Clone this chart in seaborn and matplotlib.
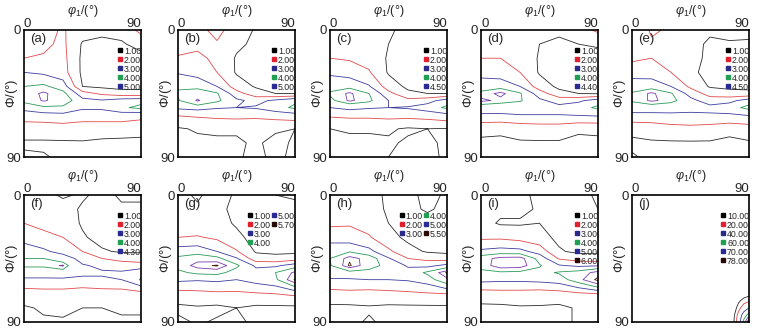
import numpy as np
import matplotlib
matplotlib.use("Agg")
import matplotlib.pyplot as plt
import seaborn as sns
from matplotlib.lines import Line2D

# ---------------- data ----------------
PHI1 = [0, 15, 30, 45, 60, 75, 90]                       # phi1 grid (deg)
PHI = [0, 10, 20, 30, 40, 45, 50, 55, 60, 70, 80, 90]    # Phi grid (deg)

ODF_A = [
    [1.6, 1.7, 2.1, 1.4, 1.2, 1.3, 2.3],
    [1.7, 1.8, 2.2, 0.9, 0.8, 0.9, 1.3],
    [2.0, 2.1, 2.3, 0.8, 0.6, 0.6, 0.7],
    [3.0, 2.8, 2.4, 0.8, 0.6, 0.6, 0.6],
    [4.0, 4.2, 3.5, 1.0, 0.8, 0.7, 0.7],
    [4.4, 5.2, 4.3, 2.4, 1.8, 1.4, 1.4],
    [4.3, 5.1, 4.6, 3.3, 3.1, 3.5, 3.6],
    [3.3, 3.8, 3.8, 3.2, 3.2, 3.8, 4.3],
    [2.6, 2.7, 2.8, 2.4, 2.5, 2.6, 2.4],
    [1.4, 1.4, 1.5, 1.6, 1.5, 1.4, 1.3],
    [0.9, 0.9, 0.9, 0.9, 0.8, 0.8, 0.8],
    [1.1, 1.05, 0.9, 0.8, 0.8, 0.8, 0.8],
]
ODF_B = [
    [1.5, 1.7, 2.3, 1.5, 0.9, 0.9, 0.9],
    [1.6, 1.8, 1.9, 1.2, 0.8, 0.8, 0.8],
    [2.1, 2.2, 1.8, 0.9, 0.7, 0.7, 0.7],
    [2.9, 2.6, 2.0, 0.9, 0.8, 0.6, 0.6],
    [3.9, 3.7, 3.0, 1.5, 0.9, 0.7, 0.7],
    [4.1, 4.6, 4.1, 2.4, 1.4, 1.0, 1.0],
    [3.9, 5.1, 4.2, 3.2, 2.7, 3.2, 3.8],
    [3.2, 3.4, 3.1, 3.0, 3.1, 3.6, 4.2],
    [2.1, 2.2, 2.3, 2.4, 2.3, 2.5, 2.7],
    [0.9, 1.1, 1.2, 1.1, 1.2, 1.1, 1.0],
    [0.7, 0.8, 0.8, 0.9, 1.1, 0.8, 1.1],
    [0.7, 0.8, 0.8, 0.9, 1.2, 0.8, 1.2],
]
ODF_C = [
    [1.4, 1.5, 1.6, 1.1, 0.8, 0.8, 0.8],
    [1.5, 1.6, 1.5, 1.0, 0.7, 0.7, 0.7],
    [2.0, 1.9, 1.6, 0.9, 0.6, 0.6, 0.6],
    [2.8, 2.5, 2.1, 0.9, 0.6, 0.5, 0.5],
    [3.7, 3.8, 3.1, 1.5, 0.8, 0.7, 0.7],
    [4.1, 4.6, 4.0, 2.3, 1.2, 1.0, 1.0],
    [3.8, 4.6, 4.2, 3.0, 2.3, 2.6, 3.5],
    [3.0, 3.3, 3.1, 3.0, 3.1, 3.5, 4.2],
    [2.2, 2.3, 2.3, 2.4, 2.4, 2.5, 2.8],
    [1.0, 1.1, 1.1, 1.1, 0.9, 1.0, 0.95],
    [0.7, 0.8, 0.8, 0.9, 1.1, 1.2, 0.8],
    [0.7, 0.7, 0.8, 1.0, 1.2, 1.3, 0.8],
]
ODF_D = [
    [1.6, 1.8, 1.5, 1.2, 1.1, 1.6, 2.2],
    [1.7, 1.9, 1.5, 1.0, 0.9, 1.0, 1.1],
    [2.0, 2.0, 1.7, 0.9, 0.7, 0.7, 0.7],
    [2.6, 2.3, 2.0, 0.9, 0.6, 0.5, 0.5],
    [3.6, 3.8, 3.0, 1.5, 0.8, 0.7, 0.7],
    [4.2, 4.5, 4.1, 2.5, 1.3, 1.0, 0.9],
    [4.5, 4.3, 4.1, 3.2, 2.6, 2.8, 3.5],
    [3.6, 3.5, 3.3, 3.2, 3.3, 3.6, 4.2],
    [2.9, 2.9, 3.0, 3.0, 3.0, 3.1, 3.2],
    [1.3, 1.2, 1.4, 1.5, 1.5, 1.2, 1.2],
    [0.8, 0.8, 0.9, 0.9, 0.9, 0.7, 0.8],
    [0.7, 0.8, 0.9, 0.9, 0.9, 0.8, 0.8],
]
ODF_E = [
    [1.4, 2.1, 1.9, 1.5, 1.1, 1.3, 1.2],
    [1.5, 1.9, 1.8, 1.2, 0.9, 0.9, 0.9],
    [1.8, 2.0, 1.8, 1.3, 0.8, 0.7, 0.7],
    [2.6, 2.4, 2.0, 1.2, 0.7, 0.6, 0.6],
    [3.5, 3.7, 3.0, 1.8, 0.9, 0.8, 0.8],
    [4.1, 4.6, 4.1, 2.6, 1.6, 1.3, 1.2],
    [4.1, 4.6, 4.3, 3.3, 2.5, 2.7, 3.5],
    [3.5, 3.5, 3.3, 3.2, 3.3, 3.6, 4.3],
    [2.8, 2.8, 2.9, 2.9, 2.9, 2.9, 3.1],
    [1.3, 1.4, 1.6, 1.7, 1.6, 1.4, 1.5],
    [0.8, 0.9, 0.9, 0.9, 0.9, 0.7, 0.9],
    [1.1, 0.8, 0.8, 0.8, 0.8, 0.8, 0.8],
]
ODF_F = [
    [1.3, 1.2, 0.9, 1.1, 0.8, 1.1, 1.1],
    [1.5, 1.4, 1.3, 0.9, 0.8, 0.9, 0.9],
    [2.0, 1.8, 1.5, 0.9, 0.7, 0.6, 0.6],
    [2.5, 2.2, 2.0, 1.1, 0.7, 0.6, 0.6],
    [3.7, 3.2, 2.6, 2.0, 1.1, 0.9, 0.9],
    [4.0, 4.0, 3.6, 2.6, 2.0, 1.6, 1.4],
    [4.1, 4.1, 4.35, 3.1, 2.8, 2.6, 2.5],
    [3.6, 3.6, 3.7, 3.2, 3.1, 3.1, 3.6],
    [2.8, 2.8, 2.8, 2.8, 2.9, 3.0, 4.1],
    [1.5, 1.6, 1.6, 1.4, 1.5, 1.5, 1.6],
    [0.9, 1.1, 1.2, 1.0, 1.0, 1.2, 1.1],
    [0.8, 0.9, 0.9, 0.8, 0.8, 0.8, 0.9],
]
ODF_G = [
    [1.2, 0.9, 1.3, 0.9, 0.8, 1.0, 1.1],
    [1.3, 1.1, 1.2, 0.8, 0.8, 0.9, 0.8],
    [1.4, 1.2, 1.3, 0.9, 0.7, 0.7, 0.7],
    [2.0, 2.1, 1.8, 1.2, 0.7, 0.6, 0.6],
    [3.5, 3.6, 3.0, 2.1, 0.9, 0.8, 0.8],
    [4.2, 4.6, 4.3, 3.1, 1.4, 1.3, 1.5],
    [4.3, 5.4, 5.8, 4.2, 2.8, 2.8, 3.5],
    [3.8, 4.2, 4.3, 3.6, 3.4, 4.0, 5.2],
    [3.2, 3.1, 3.2, 3.0, 3.4, 3.8, 5.8],
    [1.6, 1.7, 1.8, 1.8, 1.9, 2.0, 2.2],
    [0.8, 0.9, 0.8, 1.0, 0.8, 0.8, 0.8],
    [1.2, 0.9, 1.1, 1.2, 0.8, 0.8, 0.8],
]
ODF_H = [
    [1.3, 1.4, 1.2, 0.9, 0.8, 1.2, 0.9],
    [1.5, 1.6, 1.3, 0.9, 0.8, 1.1, 0.8],
    [1.8, 1.9, 1.6, 1.0, 0.7, 0.7, 0.7],
    [2.6, 2.4, 2.1, 1.3, 0.8, 0.6, 0.6],
    [3.6, 3.9, 3.3, 2.2, 1.3, 0.9, 0.8],
    [4.0, 5.4, 4.6, 3.1, 2.0, 1.7, 1.5],
    [3.9, 5.6, 4.5, 3.6, 2.9, 2.7, 3.3],
    [3.5, 3.6, 3.6, 3.4, 3.3, 4.2, 5.6],
    [2.9, 2.9, 3.0, 3.0, 3.1, 3.5, 4.8],
    [1.6, 1.7, 1.6, 1.7, 1.8, 1.9, 2.0],
    [0.8, 0.8, 0.9, 0.8, 0.8, 0.8, 0.8],
    [0.7, 0.8, 1.1, 0.8, 0.8, 0.8, 0.7],
]
ODF_I = [
    [1.3, 1.3, 1.1, 0.9, 0.8, 0.8, 1.1],
    [1.3, 1.2, 1.2, 0.9, 0.7, 0.8, 1.0],
    [1.3, 0.9, 0.9, 1.0, 0.8, 0.7, 0.7],
    [1.8, 1.8, 1.6, 1.3, 0.8, 0.6, 0.6],
    [3.2, 3.4, 3.3, 2.6, 1.1, 0.8, 0.8],
    [4.6, 5.3, 5.4, 3.6, 1.9, 1.5, 1.4],
    [4.4, 5.6, 5.5, 4.1, 3.1, 2.8, 2.9],
    [3.7, 3.8, 3.7, 3.7, 4.1, 4.4, 5.4],
    [3.3, 3.2, 3.2, 3.3, 3.5, 4.6, 6.3],
    [1.5, 1.6, 1.6, 1.5, 1.6, 1.8, 2.0],
    [0.8, 0.8, 0.9, 0.9, 0.8, 1.1, 1.1],
    [0.8, 0.8, 0.9, 0.8, 0.8, 1.1, 1.1],
]
PHI1_J = [0, 70, 78, 82, 86, 90]
PHI_J = [0, 60, 70, 75, 80, 85, 90]
ODF_J = [
    [0, 0, 0, 0, 0, 0],
    [0, 0, 0, 0, 0, 0],
    [0, 0, 0, 2, 4, 6],
    [0, 0, 0, 8, 14, 18],
    [0, 0, 3, 15, 28, 40],
    [0, 0, 6, 25, 50, 68],
    [0, 0, 8, 30, 66, 85],
]

PANEL_LABELS = ["(a)", "(b)", "(c)", "(d)", "(e)", "(f)", "(g)", "(h)", "(i)", "(j)"]
LEVELS = [
    [1.00, 2.00, 3.00, 4.00, 5.00],
    [1.00, 2.00, 3.00, 4.00, 5.00],
    [1.00, 2.00, 3.00, 4.00, 4.50],
    [1.00, 2.00, 3.00, 4.00, 4.40],
    [1.00, 2.00, 3.00, 4.00, 4.50],
    [1.00, 2.00, 3.00, 4.00, 4.30],
    [1.00, 2.00, 3.00, 4.00, 5.00, 5.70],
    [1.00, 2.00, 3.00, 4.00, 5.00, 5.50],
    [1.00, 2.00, 3.00, 4.00, 5.00, 6.00],
    [10.00, 20.00, 40.00, 60.00, 70.00, 78.00],
]
GRIDS = [(PHI1, PHI, ODF_A), (PHI1, PHI, ODF_B), (PHI1, PHI, ODF_C),
         (PHI1, PHI, ODF_D), (PHI1, PHI, ODF_E), (PHI1, PHI, ODF_F),
         (PHI1, PHI, ODF_G), (PHI1, PHI, ODF_H), (PHI1, PHI, ODF_I),
         (PHI1_J, PHI_J, ODF_J)]

# ---------------- style ----------------
sns.set_theme(style="white")
plt.rcParams["font.family"] = ["Liberation Sans", "DejaVu Sans"]
plt.rcParams["mathtext.fontset"] = "custom"
plt.rcParams["mathtext.rm"] = "Liberation Sans"
plt.rcParams["mathtext.it"] = "Liberation Sans:italic"

LINE_COLORS = ["#2a2a2a", "#e0484c", "#3c3ca0", "#2a9a58", "#7a3cae", "#4a1a10"]
SQ_COLORS = ["#000000", "#e02030", "#2a2a8a", "#20a050", "#2a2a96", "#2a0a06"]

W, H = 766, 331
fig = plt.figure(figsize=(W / 100, H / 100), dpi=100)
lefts = [24, 178, 330, 481, 632]
tops = [30, 195]
aw, ah = 117, 127

for k in range(10):
    r, c = divmod(k, 5)
    x0 = lefts[c]
    y0 = tops[r]
    ax = fig.add_axes([x0 / W, (H - y0 - ah) / H, aw / W, ah / H])
    xs, ys, zz = GRIDS[k]
    lv = LEVELS[k]
    ax.contour(np.array(xs), np.array(ys), np.array(zz), levels=lv,
               colors=LINE_COLORS[:len(lv)], linewidths=0.6)
    ax.set_xlim(0, 90)
    ax.set_ylim(90, 0)
    ax.xaxis.tick_top()
    ax.set_xticks([0, 90])
    ax.set_yticks([0, 90])
    ax.set_xticklabels(["0", "90"], fontsize=9.5)
    ax.set_yticklabels(["0", "90"], fontsize=9.5)
    ax.tick_params(length=0, pad=1)
    xl = ax.get_xticklabels()
    xl[0].set_horizontalalignment("left")
    xl[1].set_horizontalalignment("right")
    ax.tick_params(axis="x", pad=0)
    ax.tick_params(axis="y", pad=2)
    ax.text(0.5, 1 + 19 / ah, r"$\mathit{\varphi}_1$/(°)", transform=ax.transAxes,
            ha="center", va="center", fontsize=9)
    ax.text(-12 / aw, 0.5, r"$\mathit{\Phi}$/(°)", transform=ax.transAxes,
            ha="center", va="center", rotation=90, fontsize=9.5)
    for s in ax.spines.values():
        s.set_color("black")
        s.set_linewidth(1.2)
    ax.text(0.05, 0.975, PANEL_LABELS[k], transform=ax.transAxes,
            ha="left", va="top", fontsize=9.5)
    handles = [Line2D([], [], marker="s", linestyle="", markersize=3.2,
                      color=SQ_COLORS[i]) for i in range(len(lv))]
    labels = [f"{v:.2f}" for v in lv]
    ncol = 1
    if k == 6:
        handles = handles + [Line2D([], [], linestyle="")] * 2
        labels = labels + ["", ""]
        ncol = 2
    elif k == 7:
        ncol = 2
    ax.legend(handles, labels, loc="upper right",
              bbox_to_anchor=(1.0, 0.87), frameon=False, fontsize=6.3,
              handlelength=0.5, handletextpad=0.2, labelspacing=0.0,
              borderpad=0.0, borderaxespad=0.0, ncol=ncol,
              columnspacing=0.15)

fig.savefig("out.png", dpi=100)
